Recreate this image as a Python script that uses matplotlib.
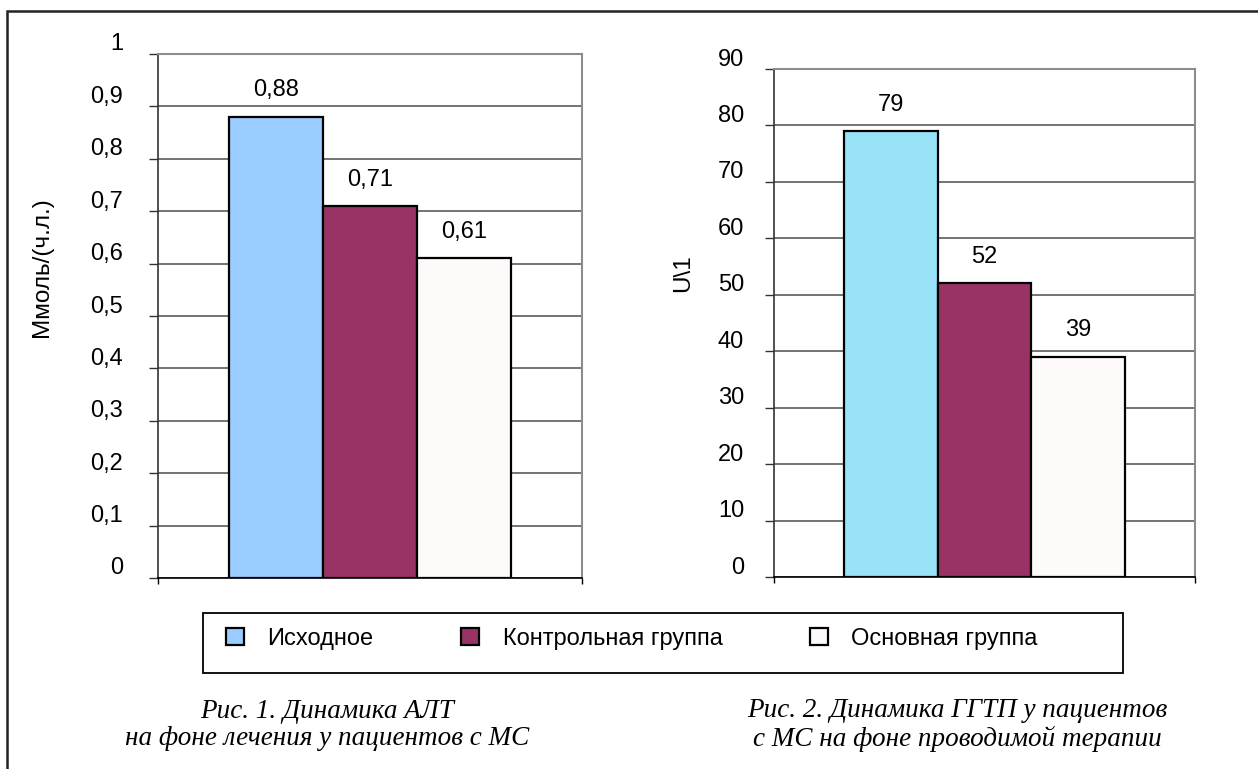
import matplotlib
matplotlib.use('Agg')
import matplotlib.pyplot as plt
from matplotlib.patches import Rectangle
from matplotlib.transforms import ScaledTranslation
import numpy as np

plt.rcParams['font.family'] = ['Liberation Sans', 'DejaVu Sans']

# data
groups = ['Исходное', 'Контрольная группа', 'Основная группа']
alt_values = [0.88, 0.71, 0.61]
ggtp_values = [79, 52, 39]
alt_ticks = [0, 0.1, 0.2, 0.3, 0.4, 0.5, 0.6, 0.7, 0.8, 0.9, 1.0]
ggtp_ticks = [0, 10, 20, 30, 40, 50, 60, 70, 80, 90]
alt_ylabel = 'Ммоль/(ч.л.)'
ggtp_ylabel = 'U\\1'
caption_1 = 'Рис. 1. Динамика АЛТ\nна фоне лечения у пациентов с МС'
caption_2 = 'Рис. 2. Динамика ГГТП у пациентов\nс МС на фоне проводимой терапии'

W, H = 1258, 769
fig = plt.figure(figsize=(W / 100, H / 100), dpi=100)


def comma(v):
    return f'{v:g}'.replace('.', ',')


def draw_chart(rect, values, ticks, colors, label_pad):
    ax = fig.add_axes(rect)
    n = len(values)
    width = 0.222
    xs = (np.arange(n) - (n - 1) / 2) * width
    bars = ax.bar(xs, values, width=width, color=colors, edgecolor='black',
                  linewidth=1.6, zorder=3)
    for x, v in zip(xs, values):
        ax.annotate(comma(v), xy=(x, v), xytext=(0, 19), textcoords='offset points',
                    ha='center', va='center', fontsize=17, zorder=4)
    ax.set_xlim(-0.5, 0.5)
    ax.set_ylim(ticks[0], ticks[-1])
    ax.set_yticks(ticks)
    ax.set_yticklabels([comma(t) for t in ticks])
    ax.set_xticks([-0.5, 0.5])
    ax.set_xticklabels([])
    ax.tick_params(axis='x', length=4.5, width=1, color='black', direction='out')
    ax.tick_params(axis='y', length=6.5, width=1, color='#333333', direction='out',
                   labelsize=17, pad=label_pad)
    ax.yaxis.grid(True, color='#4d4d4d', linewidth=1.1, zorder=0)
    ax.set_axisbelow(True)
    for side in ['top', 'right']:
        ax.spines[side].set_color('#8c8c8c')
        ax.spines[side].set_linewidth(1.5)
    ax.spines['left'].set_color('#333333')
    ax.spines['left'].set_linewidth(1.2)
    ax.spines['bottom'].set_color('black')
    ax.spines['bottom'].set_linewidth(1.2)
    # labels sit a little above their gridlines, as in the original
    shift = ScaledTranslation(0, 12 / 100, fig.dpi_scale_trans)
    for lab in ax.get_yticklabels():
        lab.set_transform(lab.get_transform() + shift)
    return bars


# left chart: 158..582 px, 54..578 px
bars_alt = draw_chart([158 / W, 1 - 578 / H, 424 / W, 524 / H], alt_values, alt_ticks,
                      ['#99ccff', '#993366', '#fffafa'], 18.5)
# right chart: 774..1195 px, 69..577 px
bars_ggtp = draw_chart([774 / W, 1 - 577 / H, 421 / W, 508 / H], ggtp_values, ggtp_ticks,
                       ['#99e3f9', '#993366', '#fffafa'], 15)

fig.text(42 / W, 1 - 267 / H, alt_ylabel, rotation=90, ha='center', va='center', fontsize=17.5)
fig.text(683 / W, 1 - 273 / H, ggtp_ylabel, rotation=90, ha='center', va='center', fontsize=17.5)

# legend entries, with the box drawn separately (it is wider on the right)
leg = fig.legend(bars_alt, groups, loc='center left', ncol=3,
                 bbox_to_anchor=(226 / W, 1 - 639 / H),
                 fontsize=17, frameon=False, handlelength=0.76, handleheight=0.76,
                 handletextpad=1.0, columnspacing=3.7, borderpad=0, borderaxespad=0)
for h in leg.legend_handles:
    h.set_linewidth(1.6)
fig.patches.append(Rectangle((203 / W, 1 - 673 / H), 920 / W, 60 / H, transform=fig.transFigure,
                             fill=False, edgecolor='black', linewidth=1.3))

fig.text(327 / W, 1 - 725 / H, caption_1, ha='center', va='center', fontsize=19.5,
         family='Liberation Serif', style='italic', linespacing=1.1)
fig.text(957 / W, 1 - 725 / H, caption_2, ha='center', va='center', fontsize=19.5,
         family='Liberation Serif', style='italic', linespacing=1.1)

# outer frame, its right and bottom sides fall outside the picture
fig.patches.append(Rectangle((7 / W, -0.05), 1.1, 1.05 - 11 / H, transform=fig.transFigure,
                             fill=False, edgecolor='#222222', linewidth=1.8, clip_on=False))

fig.savefig('out.png', dpi=100)
